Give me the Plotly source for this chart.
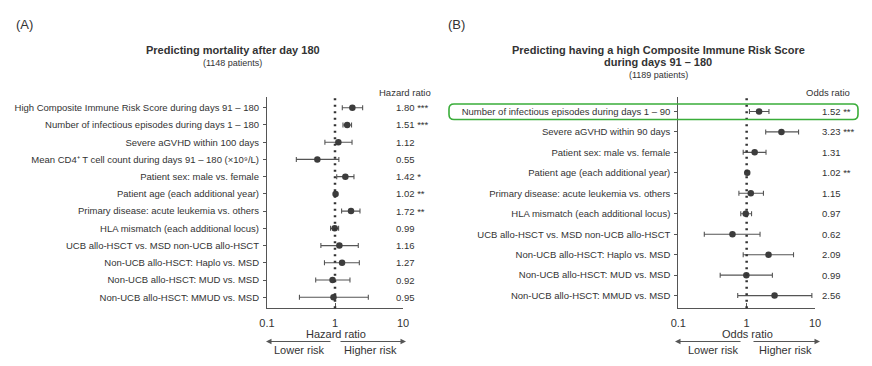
import plotly.graph_objects as go

W, H = 872, 366

# ---------- Data ----------
a_labels = [
    "High Composite Immune Risk Score during days 91 – 180",
    "Number of infectious episodes during days 1 – 180",
    "Severe aGVHD within 100 days",
    "Mean CD4⁺ T cell count during days 91 – 180 (×10⁹/L)",
    "Patient sex: male vs. female",
    "Patient age (each additional year)",
    "Primary disease: acute leukemia vs. others",
    "HLA mismatch (each additional locus)",
    "UCB allo-HSCT vs. MSD non-UCB allo-HSCT",
    "Non-UCB allo-HSCT: Haplo vs. MSD",
    "Non-UCB allo-HSCT: MUD vs. MSD",
    "Non-UCB allo-HSCT: MMUD vs. MSD",
]
a_est = [1.80, 1.51, 1.12, 0.55, 1.42, 1.02, 1.72, 0.99, 1.16, 1.27, 0.92, 0.95]
a_lo = [1.28, 1.31, 0.71, 0.27, 1.06, 1.01, 1.25, 0.86, 0.62, 0.70, 0.52, 0.30]
a_hi = [2.55, 1.75, 1.78, 1.14, 1.90, 1.03, 2.33, 1.13, 2.20, 2.28, 1.66, 3.09]
a_sig = ["***", "***", "", "", "*", "**", "**", "", "", "", "", ""]

b_labels = [
    "Number of infectious episodes during days 1 – 90",
    "Severe aGVHD within 90 days",
    "Patient sex: male vs. female",
    "Patient age (each additional year)",
    "Primary disease: acute leukemia vs. others",
    "HLA mismatch (each additional locus)",
    "UCB allo-HSCT vs. MSD non-UCB allo-HSCT",
    "Non-UCB allo-HSCT: Haplo vs. MSD",
    "Non-UCB allo-HSCT: MUD vs. MSD",
    "Non-UCB allo-HSCT: MMUD vs. MSD",
]
b_est = [1.52, 3.23, 1.31, 1.02, 1.15, 0.97, 0.62, 2.09, 0.99, 2.56]
b_lo = [1.10, 1.90, 0.89, 1.01, 0.77, 0.82, 0.24, 0.89, 0.41, 0.74]
b_hi = [2.12, 5.75, 1.92, 1.03, 1.76, 1.18, 1.57, 4.85, 2.38, 9.00]
b_sig = ["**", "***", "", "**", "", "", "", "", "", ""]

x_ticks = [0.1, 1, 10]
x_ticktext = ["0.1", "1", "10"]

FONT = "Liberation Sans, Arial, sans-serif"
TXT = "#333333"
AX = "#555555"
MK = "#3c3c3c"


def px(x):
    return x / W


def py(y):
    return 1 - y / H


fig = go.Figure()


def add_panel(idx, labels, est, lo, hi, xdom, ydom, yrange):
    xa = "x" if idx == 1 else "x2"
    ya = "y" if idx == 1 else "y2"
    rows = list(range(len(labels)))
    fig.add_trace(go.Scatter(
        x=est, y=rows, mode="markers", xaxis=xa, yaxis=ya,
        marker=dict(color=MK, size=6.5),
        error_x=dict(type="data", symmetric=False,
                     array=[h - e for h, e in zip(hi, est)],
                     arrayminus=[e - l for e, l in zip(est, lo)],
                     color="#555555", thickness=1.1, width=2.5),
        showlegend=False, hoverinfo="skip", cliponaxis=False,
    ))
    xkey = "xaxis" if idx == 1 else "xaxis2"
    ykey = "yaxis" if idx == 1 else "yaxis2"
    fig.update_layout(**{
        xkey: dict(domain=xdom, anchor=ya, type="log", range=[-1, 1],
                   tickvals=x_ticks, ticktext=x_ticktext,
                   ticks="inside", ticklen=5, tickcolor=AX, tickwidth=1,
                   showline=True, linecolor=AX, linewidth=1.2,
                   showgrid=False, zeroline=False, automargin=False,
                   tickfont=dict(family=FONT, size=11, color=TXT),
                   ticklabelstandoff=4),
        ykey: dict(domain=ydom, anchor=xa, range=yrange,
                   tickvals=rows, ticktext=labels,
                   ticks="outside", ticklen=3, tickcolor=AX,
                   showline=True, linecolor=AX, linewidth=1.2,
                   showgrid=False, zeroline=False, automargin=False,
                   tickfont=dict(family=FONT, size=9.5, color=TXT),
                   ticklabelstandoff=2),
    })


ydom = [py(308.3), py(96.7)]
add_panel(1, a_labels, a_est, a_lo, a_hi, [px(267), px(403)], ydom, [11.64, -0.64])
add_panel(2, b_labels, b_est, b_lo, b_hi, [px(678.3), px(815)], ydom, [9.62, -0.72])

shapes = []
# dotted reference lines at 1
for xr, yr in [("x", "y domain"), ("x2", "y2 domain")]:
    shapes.append(dict(type="line", xref=xr, yref=yr, x0=1, x1=1, y0=0, y1=1.01,
                       line=dict(color="#333333", width=2.5, dash="2px,4.5px")))

# green rounded highlight box
x0, x1, y0, y1 = px(449), px(858), py(104), py(119.5)
rx, ry = 5 / W, 5 / H
path = (f"M {x0+rx},{y0} L {x1-rx},{y0} Q {x1},{y0} {x1},{y0-ry} "
        f"L {x1},{y1+ry} Q {x1},{y1} {x1-rx},{y1} L {x0+rx},{y1} "
        f"Q {x0},{y1} {x0},{y1+ry} L {x0},{y0-ry} Q {x0},{y0} {x0+rx},{y0} Z")
shapes.append(dict(type="path", xref="paper", yref="paper", path=path,
                   line=dict(color="#3aad3a", width=1.6)))

ann = []


def txt(x, y, s, size=9, anchor="center", bold=False, yref="paper", xref="paper"):
    if bold:
        s = f"<b>{s}</b>"
    ann.append(dict(x=x, y=y, xref=xref, yref=yref, text=s, showarrow=False,
                    xanchor=anchor, yanchor="middle",
                    font=dict(family=FONT, size=size, color=TXT)))


# panel letters
txt(px(14), py(25), "(A)", size=13, anchor="left")
txt(px(446), py(25), "(B)", size=13, anchor="left")

# titles
txt(px(233), py(50), "Predicting mortality after day 180", size=11, bold=True)
txt(px(233), py(62.5), "(1148 patients)", size=9)
txt(px(658), py(50), "Predicting having a high Composite Immune Risk Score", size=11, bold=True)
txt(px(658), py(62), "during days 91 – 180", size=11, bold=True)
txt(px(658), py(75.5), "(1189 patients)", size=9)

# column headers
txt(px(433), py(93), "Hazard ratio", size=9.5, anchor="right")
txt(px(852), py(93), "Odds ratio", size=9.5, anchor="right")

# values
for i, (e, s) in enumerate(zip(a_est, a_sig)):
    txt(px(394), i, f"{e:.2f} {s}".rstrip(), size=9.5, anchor="left", yref="y")
for i, (e, s) in enumerate(zip(b_est, b_sig)):
    txt(px(820), i, f"{e:.2f} {s}".rstrip(), size=9.5, anchor="left", yref="y2")

# axis titles and risk labels
txt(px(336), py(333.5), "Hazard ratio", size=11)
txt(px(747), py(333.5), "Odds ratio", size=11)
txt(px(299), py(349.5), "Lower risk", size=11)
txt(px(370), py(349.5), "Higher risk", size=11)
txt(px(713), py(349.5), "Lower risk", size=11)
txt(px(785), py(349.5), "Higher risk", size=11)

# arrows
for head, tail in [(266, 332), (406, 339), (675, 742), (820, 752)]:
    ann.append(dict(x=px(head), y=py(341.5), ax=tail - head, ay=0,
                    xref="paper", yref="paper", axref="pixel", ayref="pixel",
                    text="", showarrow=True, arrowhead=2, arrowsize=1,
                    arrowwidth=1.1, arrowcolor="#555555"))

fig.update_layout(
    width=W, height=H, margin=dict(l=0, r=0, t=0, b=0, autoexpand=False),
    paper_bgcolor="white", plot_bgcolor="white",
    shapes=shapes, annotations=ann,
    font=dict(family=FONT, color=TXT),
)

fig.write_html("out.html", config={"displayModeBar": False},
               post_script="document.body.style.margin='0';document.body.style.overflow='hidden';")
